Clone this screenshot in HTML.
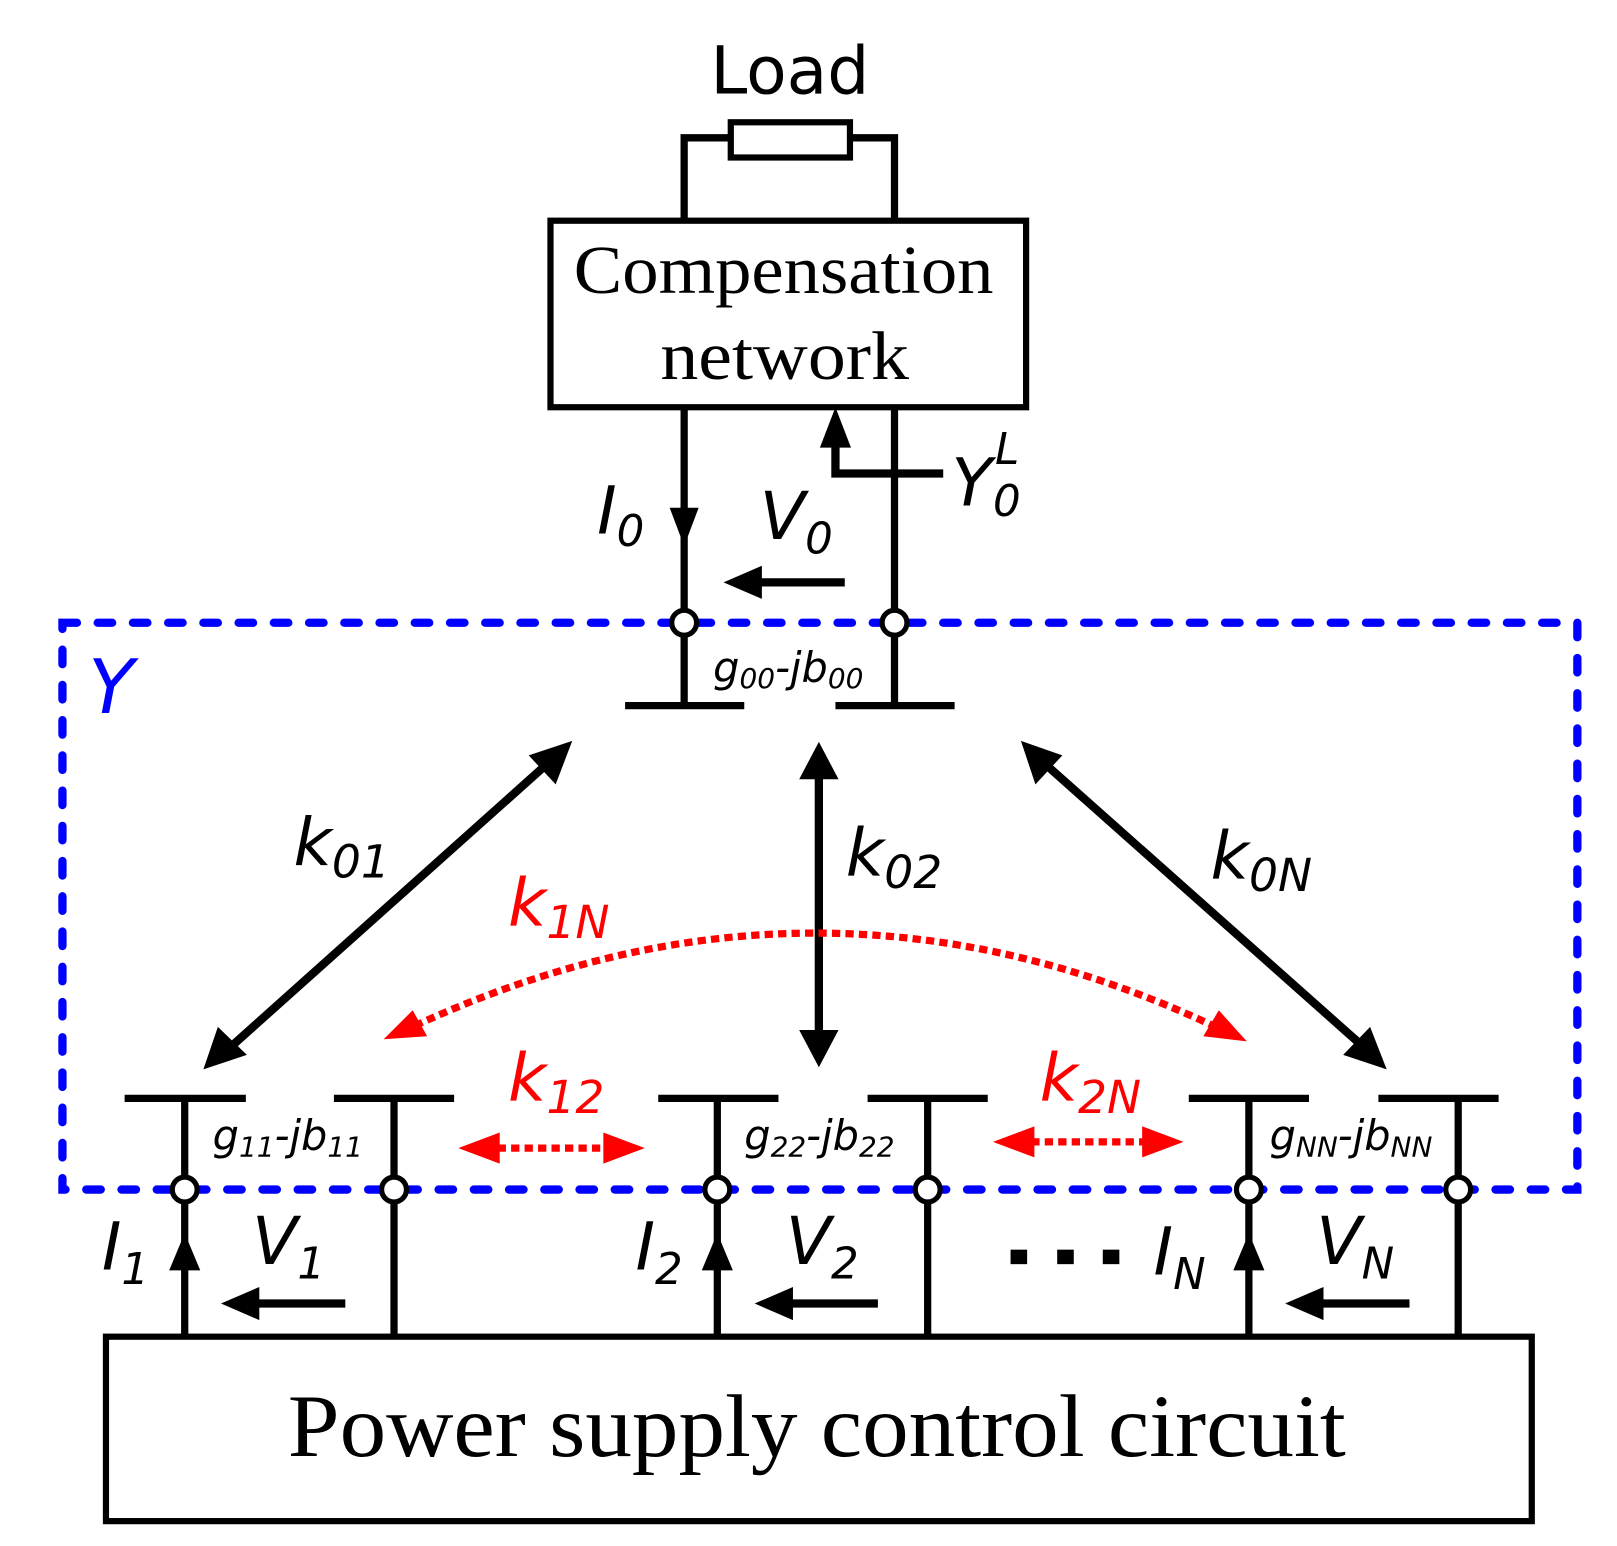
<!DOCTYPE html>
<html><head><meta charset="utf-8"><style>html,body{margin:0;padding:0;background:#fff}svg{display:block}</style></head>
<body>
<svg width="1617" height="1546" viewBox="0 0 1560 1492" xmlns="http://www.w3.org/2000/svg">
<g fill="none" stroke="#000" stroke-width="7">
<rect x="705" y="118" width="115" height="34" stroke-width="6"/>
<polyline points="660,213 660,133 705,133"/>
<polyline points="863,213 863,133 820,133"/>
<rect x="531" y="213" width="459" height="180" stroke-width="6"/>
<line x1="660" y1="393" x2="660" y2="681"/>
<line x1="863" y1="393" x2="863" y2="681"/>
<polyline points="910,457 806,457 806,425" stroke-width="8"/>
<line x1="603" y1="681" x2="718" y2="681"/>
<line x1="806" y1="681" x2="921" y2="681"/>
<line x1="120" y1="1060" x2="237" y2="1060"/><line x1="322" y1="1060" x2="438" y2="1060"/>
<line x1="635" y1="1060" x2="751" y2="1060"/><line x1="837" y1="1060" x2="953" y2="1060"/>
<line x1="1147" y1="1060" x2="1263" y2="1060"/><line x1="1330" y1="1060" x2="1446" y2="1060"/>
<line x1="178" y1="1060" x2="178" y2="1290"/><line x1="380" y1="1060" x2="380" y2="1290"/>
<line x1="692" y1="1060" x2="692" y2="1290"/><line x1="895" y1="1060" x2="895" y2="1290"/>
<line x1="1205" y1="1060" x2="1205" y2="1290"/><line x1="1407" y1="1060" x2="1407" y2="1290"/>
<rect x="102" y="1290" width="1376" height="178" stroke-width="6"/>
<line x1="815" y1="562" x2="730" y2="562" stroke-width="8"/>
<line x1="333" y1="1258" x2="245" y2="1258" stroke-width="8"/>
<line x1="847" y1="1258" x2="760" y2="1258" stroke-width="8"/>
<line x1="1360" y1="1258" x2="1272" y2="1258" stroke-width="8"/>
<line x1="225" y1="1008" x2="528" y2="737" stroke-width="8"/>
<line x1="790" y1="745" x2="790" y2="1000" stroke-width="8"/>
<line x1="1008" y1="737" x2="1313" y2="1008" stroke-width="8"/>
</g>
<g fill="#000">
<polygon points="806,393 791,432 821,432"/>
<polygon points="660,527 646,490 674,490"/>
<polygon points="698,562 735,546 735,578"/>
<polygon points="213,1258 250,1242 250,1274"/>
<polygon points="728,1258 765,1242 765,1274"/>
<polygon points="1240,1258 1277,1242 1277,1274"/>
<polygon points="178,1190 163,1226 193,1226"/>
<polygon points="692,1190 677,1226 707,1226"/>
<polygon points="1205,1190 1190,1226 1220,1226"/>
<polygon points="552,715 510,729 536,757"/>
<polygon points="196,1032 210,991 238,1018"/>
<polygon points="790,716 771,752 809,752"/>
<polygon points="790,1030 771,994 809,994"/>
<polygon points="985,715 999,757 1025,729"/>
<polygon points="1338,1032 1296,1018 1322,991"/>
<rect x="975" y="1206" width="16" height="14"/><rect x="1020" y="1206" width="16" height="14"/><rect x="1064" y="1206" width="16" height="14"/>
</g>
<g stroke="#f00" stroke-width="7" fill="none" stroke-dasharray="8,5">
<path d="M400,990 Q790,810 1175,992"/>
<line x1="480" y1="1108" x2="590" y2="1108"/>
<line x1="995" y1="1102" x2="1108" y2="1102"/>
</g>
<g fill="#f00">
<polygon points="370,1003 398,975 412,1000"/>
<polygon points="1203,1005 1161,1000 1176,975"/>
<polygon points="442,1108 482,1093 482,1123"/>
<polygon points="622,1108 582,1093 582,1123"/>
<polygon points="958,1102 998,1087 998,1117"/>
<polygon points="1142,1102 1102,1087 1102,1117"/>
</g>
<rect x="60" y="601" width="1462" height="547" fill="none" stroke="#00f" stroke-width="8" stroke-dasharray="14,20" stroke-linecap="round"/>
<g fill="#fff" stroke="#000" stroke-width="5">
<circle cx="660" cy="601" r="12"/><circle cx="863" cy="601" r="12"/>
<circle cx="178" cy="1148" r="12"/><circle cx="380" cy="1148" r="12"/>
<circle cx="692" cy="1148" r="12"/><circle cx="895" cy="1148" r="12"/>
<circle cx="1205" cy="1148" r="12"/><circle cx="1407" cy="1148" r="12"/>
</g>
<g font-family="'DejaVu Sans', sans-serif">
<text x="762" y="90" font-size="64" text-anchor="middle">Load</text>
</g>
<g font-family="'Liberation Serif', serif" text-anchor="middle">
<text x="756" y="283" font-size="66" textLength="405" lengthAdjust="spacingAndGlyphs">Compensation</text>
<text x="757" y="366" font-size="66" textLength="240" lengthAdjust="spacingAndGlyphs">network</text>
<text x="788" y="1405" font-size="86" textLength="1021" lengthAdjust="spacingAndGlyphs">Power supply control circuit</text>
</g>
<g font-family="'DejaVu Sans', sans-serif" font-style="italic">
<text x="576" y="515" font-size="64">I<tspan font-size="42" dy="12">0</tspan></text>
<text x="733" y="520" font-size="64">V<tspan font-size="42" dy="14">0</tspan></text>
<text x="918" y="488" font-size="64">Y</text>
<text x="960" y="448" font-size="42">L</text>
<text x="958" y="498" font-size="42">0</text>
<text x="85" y="688" font-size="72" fill="#00f">Y</text>
<text x="688" y="658" font-size="40">g<tspan font-size="27" dy="6">00</tspan><tspan dy="-6">-jb</tspan><tspan font-size="27" dy="6">00</tspan></text>
<text x="205" y="1110" font-size="40">g<tspan font-size="27" dy="6">11</tspan><tspan dy="-6">-jb</tspan><tspan font-size="27" dy="6">11</tspan></text>
<text x="718" y="1110" font-size="40">g<tspan font-size="27" dy="6">22</tspan><tspan dy="-6">-jb</tspan><tspan font-size="27" dy="6">22</tspan></text>
<text x="1225" y="1110" font-size="40">g<tspan font-size="27" dy="6">NN</tspan><tspan dy="-6">-jb</tspan><tspan font-size="27" dy="6">NN</tspan></text>
<text x="283" y="835" font-size="64">k<tspan font-size="44" dy="12">01</tspan></text>
<text x="816" y="845" font-size="64">k<tspan font-size="44" dy="12">02</tspan></text>
<text x="1168" y="848" font-size="64">k<tspan font-size="44" dy="12">0N</tspan></text>
<g fill="#f00">
<text x="490" y="893" font-size="64">k<tspan font-size="44" dy="12">1N</tspan></text>
<text x="490" y="1062" font-size="64">k<tspan font-size="44" dy="12">12</tspan></text>
<text x="1003" y="1062" font-size="64">k<tspan font-size="44" dy="12">2N</tspan></text>
</g>
<text x="98" y="1225" font-size="64">I<tspan font-size="42" dy="14">1</tspan></text>
<text x="613" y="1225" font-size="64">I<tspan font-size="42" dy="14">2</tspan></text>
<text x="1113" y="1230" font-size="64">I<tspan font-size="42" dy="14">N</tspan></text>
<text x="243" y="1220" font-size="64">V<tspan font-size="42" dy="14">1</tspan></text>
<text x="758" y="1220" font-size="64">V<tspan font-size="42" dy="14">2</tspan></text>
<text x="1270" y="1220" font-size="64">V<tspan font-size="42" dy="14">N</tspan></text>
</g>
</svg>
</body></html>
